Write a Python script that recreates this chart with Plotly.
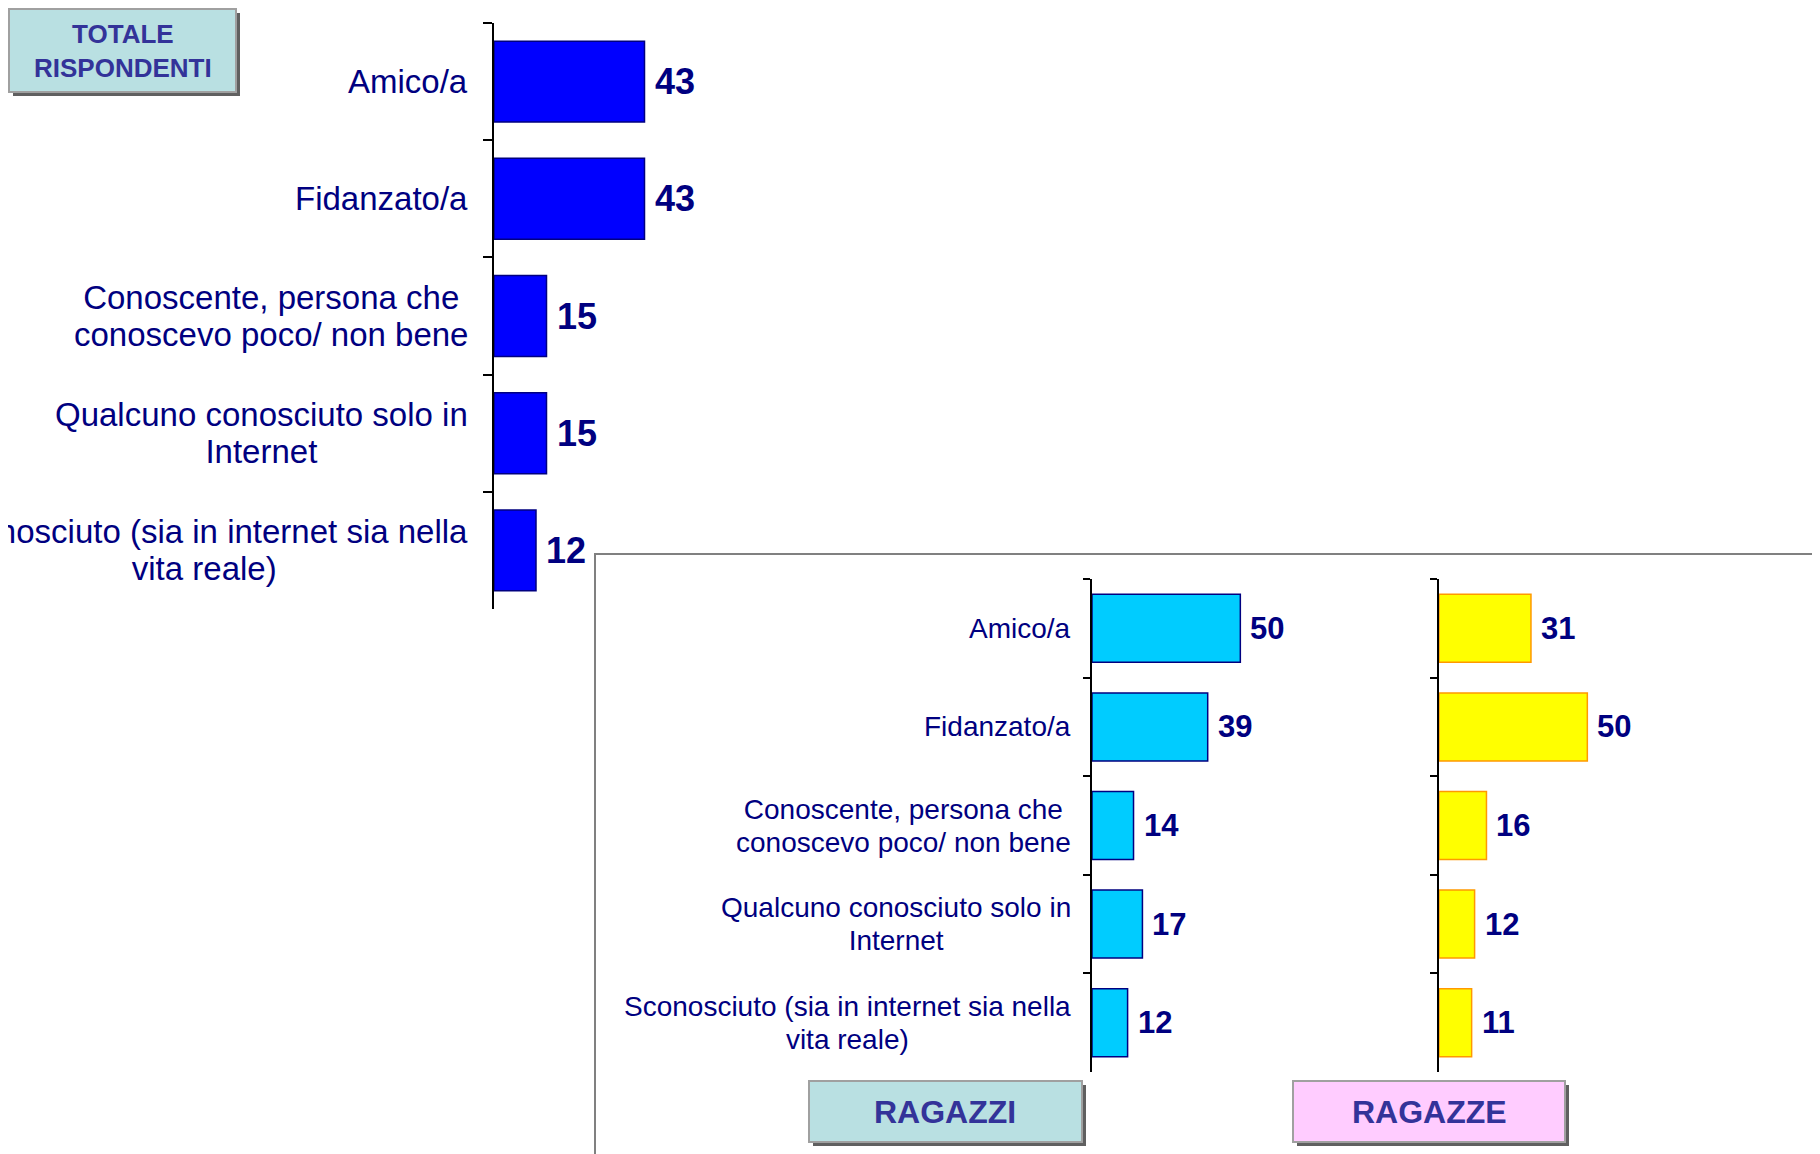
import plotly.graph_objects as go

categories = ["Amico/a", "Fidanzato/a", "Conoscente", "Qualcuno", "Sconosciuto"]
labels = [
    ["Amico/a"],
    ["Fidanzato/a"],
    ["Conoscente, persona che", "conoscevo poco/ non bene"],
    ["Qualcuno conosciuto solo in", "Internet"],
    ["Sconosciuto (sia in internet sia nella", "vita reale)"],
]
totale = [43, 43, 15, 15, 12]
ragazzi = [50, 39, 14, 17, 12]
ragazze = [31, 50, 16, 12, 11]

NAVY = "#000080"
FONT = "Liberation Sans, Arial"
W, H = 1820, 1154
OFF = 8  # page body margin

def px(x):
    return (x - OFF) / W

def py(y):
    return 1 - (y - OFF) / H

def label_html(lines, size):
    # glyph size set on the spans, line spacing driven by the annotation font size
    return "<br>".join('<span style="font-size:%dpx">%s</span>' % (size, s) for s in lines)

fig = go.Figure()

panels = [
    # values, fill, outline, xaxis, yaxis, x domain, y domain,
    # label glyph size, label line size, value size, tick len, label gap
    (totale, "#0000FF", NAVY, "x", "y", [px(494), px(704)], [py(609), py(23)], 33, 28.5, 36, 9, 24),
    (ragazzi, "#00CCFF", NAVY, "x2", "y2", [px(1092), px(1270)], [py(1072), py(579)], 28, 25, 31, 7, 19),
    (ragazze, "#FFFF00", "#FF9900", "x3", "y3", [px(1439), px(1617)], [py(1072), py(579)], None, None, 31, 7, 0),
]

for i, (vals, fill, line, xa, ya, xd, yd, lsize, lline, vsize, tlen, gap) in enumerate(panels):
    fig.add_trace(go.Bar(
        x=vals, y=categories, orientation="h", xaxis=xa, yaxis=ya,
        marker=dict(color=fill, line=dict(color=line, width=1.5)),
        showlegend=False, hoverinfo="skip",
    ))
    sfx = "" if i == 0 else str(i + 1)
    fig.layout["xaxis" + sfx] = dict(domain=xd, range=[0, 60], visible=False, fixedrange=True,
                                     anchor=ya)
    fig.layout["yaxis" + sfx] = dict(domain=yd, range=[4.5, -0.5], type="category",
                                     showline=True, linecolor="black", linewidth=2,
                                     ticks="outside", tickson="boundaries", ticklen=tlen,
                                     tickcolor="black", tickwidth=2, showticklabels=False,
                                     showgrid=False, zeroline=False, anchor=xa)
    if lsize:
        for c, lab in zip(categories, labels):
            fig.add_annotation(xref=xa + " domain", yref=ya, x=0, y=c,
                               text=label_html(lab, lsize),
                               xanchor="right", yanchor="middle", align="center",
                               xshift=-gap, showarrow=False,
                               font=dict(size=lline, color=NAVY, family=FONT))
    for c, v in zip(categories, vals):
        fig.add_annotation(xref=xa, yref=ya, x=v, y=c, text="<b>%d</b>" % v,
                           xanchor="left", yanchor="middle", xshift=8, showarrow=False,
                           font=dict(size=vsize, color=NAVY, family=FONT))

shapes = []
# frame around the lower panel
shapes.append(dict(type="rect", xref="paper", yref="paper", x0=px(595), x1=1.02,
                   y0=-0.02, y1=py(554), line=dict(color="#808080", width=2),
                   fillcolor="rgba(0,0,0,0)", layer="below"))

boxes = [
    ("TOTALE<br>RISPONDENTI", 9, 236, 9, 92, "#B9E0E2", 26),
    ("RAGAZZI", 809, 1082, 1081, 1142, "#B9E0E2", 32),
    ("RAGAZZE", 1293, 1565, 1081, 1142, "#FFCCFF", 32),
]
for text, x0, x1, y0, y1, fill, fs in boxes:
    shapes.append(dict(type="rect", xref="paper", yref="paper",
                       x0=px(x0 + 4), x1=px(x1 + 4), y0=py(y1 + 4), y1=py(y0 + 4),
                       fillcolor="#606060", line=dict(width=0)))
    shapes.append(dict(type="rect", xref="paper", yref="paper",
                       x0=px(x0), x1=px(x1), y0=py(y1), y1=py(y0),
                       fillcolor=fill, line=dict(color="#A0A0A0", width=2)))
    fig.add_annotation(xref="paper", yref="paper", x=px((x0 + x1) / 2), y=py((y0 + y1) / 2),
                       text="<b>%s</b>" % text, showarrow=False, align="center",
                       xanchor="center", yanchor="middle",
                       font=dict(size=fs, color="#333399", family=FONT))

fig.update_layout(
    width=W, height=H, margin=dict(l=0, r=0, t=0, b=0),
    paper_bgcolor="white", plot_bgcolor="rgba(0,0,0,0)",
    bargap=0.31, shapes=shapes,
)

fig.write_html("out.html")
